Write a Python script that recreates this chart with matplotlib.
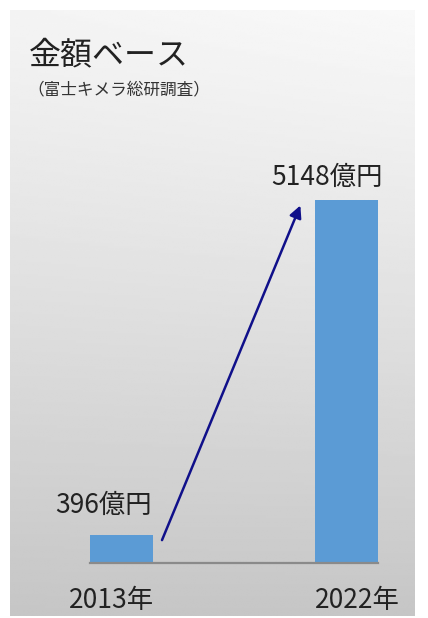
import numpy as np
import matplotlib.pyplot as plt
import matplotlib.transforms as mtrans

plt.rcParams['font.family'] = ['Noto Sans CJK JP', 'DejaVu Sans']

years = ['2013年', '2022年']
values = [396, 5148]
value_labels = ['396億円', '5148億円']
title = '金額ベース'
subtitle = '（富士キメラ総研調査）'

W, H = 428, 618
fig = plt.figure(figsize=(W / 100, H / 100), dpi=100)
fig.patch.set_facecolor('white')

# ---- gradient panel ----
px0, px1, py0, py1 = 10, 415, 10, 616
bg = fig.add_axes([px0 / W, 1 - py1 / H, (px1 - px0) / W, (py1 - py0) / H])
g = np.linspace(0, 1, 256)[:, None]
xx = np.linspace(0, 1, 64)[None, :]
shade = 0.955 - 0.18 * g ** 1.1 + 0.02 * xx * (1 - g)
bg.imshow(shade, cmap='gray', vmin=0, vmax=1, aspect='auto', extent=[0, 1, 0, 1], origin='upper')
bg.set_axis_off()

# ---- data axes, mapped so bars land at the reference pixels ----
base_y, top_y = 563, 200
x_c0, x_c1 = 121.5, 346.5
step = x_c1 - x_c0
ymax_px = 140
ax = fig.add_axes([px0 / W, 1 - base_y / H, (px1 - px0) / W, (base_y - ymax_px) / H])
ax.patch.set_alpha(0)
per_px = values[1] / (base_y - top_y)
ax.set_ylim(0, per_px * (base_y - ymax_px))
ax.set_xlim(-(x_c0 - px0) / step, 1 + (px1 - x_c1) / step)
for s in ax.spines.values():
    s.set_visible(False)
ax.set_xticks([])
ax.set_yticks([])

x = np.arange(len(values))
ax.bar(x, values, width=63 / step, color='#5b9bd5', zorder=2)
ax.plot([x[0] - 0.14, x[1] + 0.14], [0, 0], color='#8a8a8a', lw=1.6, zorder=3, clip_on=False)

# value labels
ax.annotate(value_labels[0], (x[0], values[0]), xytext=(-13.3, 21), textcoords='offset points',
            ha='center', va='center', fontsize=19, color='#222222')
ax.annotate(value_labels[1], (x[1], values[1]), xytext=(-14, 16), textcoords='offset points',
            ha='center', va='center', fontsize=19, color='#222222')

# year labels
off = mtrans.ScaledTranslation(0, -37 / 100, fig.dpi_scale_trans)
ax.text(x[0] - 0.044, 0, years[0], transform=ax.transData + off,
        ha='center', va='center', fontsize=19, color='#222222')
ax.text(x[1] + 0.049, 0, years[1], transform=ax.transData + off,
        ha='center', va='center', fontsize=19, color='#222222')

# growth arrow
ax.annotate('', xy=(x[1] - 0.205, values[1] * 0.985), xytext=(x[0] + 0.18, values[0] * 0.82),
            arrowprops=dict(arrowstyle='-|>', color='#10108a', lw=1.8, mutation_scale=18,
                            shrinkA=0, shrinkB=0), zorder=4)

# titles
fig.text(29 / W, 1 - 55 / H, title, fontsize=23, color='#222222', va='center', ha='left')
fig.text(27 / W, 1 - 90 / H, subtitle, fontsize=12, color='#333333', va='center', ha='left')

fig.savefig('out.png', dpi=100)
